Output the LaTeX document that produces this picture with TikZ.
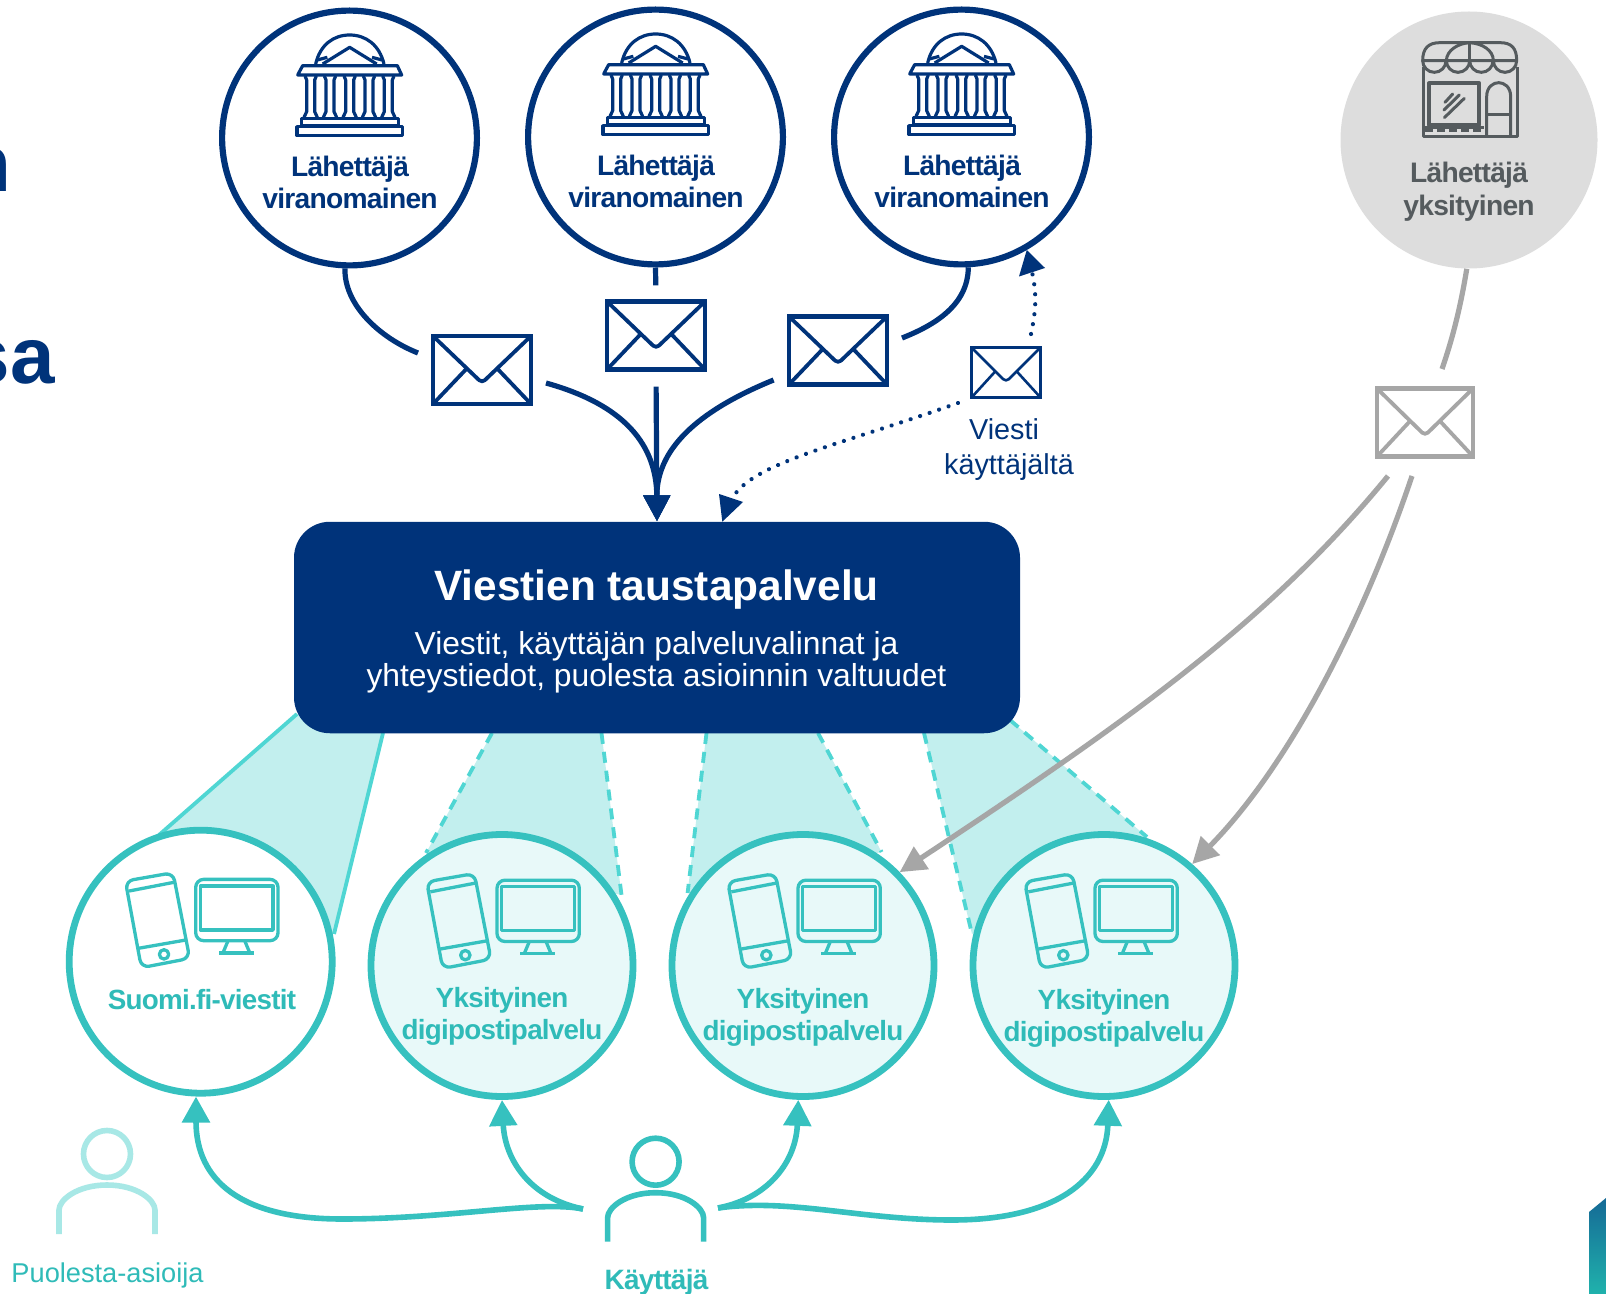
\documentclass[tikz,border=0pt]{standalone}
\usepackage{fontspec}
\setmainfont{Liberation Sans}
\newfontfamily\tightbold[LetterSpace=-2.6]{Liberation Sans}
\usetikzlibrary{arrows.meta,calc}
\definecolor{navy}{HTML}{00337A}
\definecolor{tealc}{HTML}{36C1BF}
\definecolor{teallabel}{HTML}{2FBBB8}
\definecolor{teallight}{HTML}{A8E8E6}
\definecolor{wedgefill}{HTML}{C2EFEE}
\definecolor{wedgeline}{HTML}{4FD6D3}
\definecolor{circlefill}{HTML}{E8F9F9}
\definecolor{grayline}{HTML}{A6A6A6}
\definecolor{graydisc}{HTML}{DDDDDD}
\definecolor{graytext}{HTML}{555B5E}
\definecolor{cornertop}{HTML}{156A96}
\definecolor{cornerbot}{HTML}{20B2AC}
\tikzset{
  sendercircle/.style={circle,draw=navy,line width=3.1pt,fill=white,inner sep=0pt,minimum size=127.4pt},
  privcircle/.style={circle,fill=graydisc,inner sep=0pt,minimum size=128.5pt},
  servwhite/.style={circle,draw=tealc,line width=3.4pt,fill=white,inner sep=0pt,minimum size=131.5pt},
  servtint/.style={circle,draw=tealc,line width=3.4pt,fill=circlefill,inner sep=0pt,minimum size=131pt},
  senderlabel/.style={text=navy,align=center,font=\fontsize{14.1}{16}\selectfont\tightbold\bfseries},
  privlabel/.style={text=graytext,align=center,font=\fontsize{14.1}{16.5}\selectfont\tightbold\bfseries},
  servlabel/.style={text=teallabel,align=center,font=\fontsize{13.9}{16}\selectfont\tightbold\bfseries},
  envbox/.style n args={3}{rectangle,draw=#3,line width=2.2pt,fill=white,inner sep=0pt,minimum width=#1,minimum height=#2},
  pics/flap/.style n args={4}{code={
    \begin{scope}[x=#1,y=-#2,draw=#3,line width=#4,line join=round]
      \draw[rounded corners=2pt] (-.5,-.5) -- (0,.19) -- (.5,-.5);
      \draw (-.5,.5) -- (-.15,-.03);
      \draw (.5,.5) -- (.15,-.03);
    \end{scope}
  }},
  navyline/.style={draw=navy,line width=2.6pt},
  navydot/.style={draw=navy,line width=2.1pt,line cap=round,dash pattern=on 0.01pt off 5pt},
  grayconn/.style={draw=grayline,line width=2.6pt},
  tealconn/.style={draw=tealc,line width=2.8pt},
  navytip/.style={-{Triangle[length=13pt,width=13pt,color=navy]}},
  graytip/.style={-{Triangle[length=13pt,width=13pt,color=grayline]}},
  tealtip/.style={-{Triangle[length=13pt,width=13.5pt,color=tealc]}},
  wedgearea/.style={fill=wedgefill},
  wedgesolid/.style={draw=wedgeline,line width=1.9pt},
  wedgedash/.style={draw=wedgeline,line width=1.9pt,dash pattern=on 5.5pt off 4pt},
  pics/bank/.style={code={
    \begin{scope}[scale=0.33333,shift={(-448.5,-414)},navy,line width=1.6pt,line join=round]
      \draw (347,192) .. controls (360,135) and (400,105) .. (449,105) .. controls (498,105) and (538,135) .. (552,192);
      \draw (368,192) -- (449,142) -- (530,192);
      \draw (352,180) -- (382,172) (546,180) -- (516,172);
      \draw (293,225) -- (308,197) -- (592,197) -- (605,225) -- cycle;
      \foreach \c in {332,390,449,507,565}{
        \draw (\c-17,228) -- (\c-12,240) -- (\c-12,335) -- (\c-20,352);
        \draw (\c+17,228) -- (\c+12,240) -- (\c+12,335) -- (\c+20,352);
      }
      \draw (305,355) rectangle (595,378);
      \draw (291,380) rectangle (607,407);
    \end{scope}
  }},
  pics/shop/.style={code={
    \begin{scope}[scale=0.33333,shift={(-447,-420)},graytext,line width=1.5pt,line join=round]
      \draw (308,182) .. controls (308,145) and (325,128) .. (360,128) -- (540,128) .. controls (575,128) and (590,145) .. (590,182) -- cycle;
      \draw (379,182) .. controls (380,150) and (415,130) .. (449,128) .. controls (485,130) and (520,150) .. (520,182);
      \draw (449,128) -- (449,182);
      \foreach \s in {308,379,449,520}{
        \draw (\s,182) arc[start angle=180,end angle=0,radius=35];
      }
      \draw (310,200) -- (310,410) -- (592,410) -- (592,200);
      \draw[line width=2pt] (327,250) rectangle (478,375);
      \draw[line cap=round] (375,307) -- (398,282) (372,330) -- (418,285) (373,353) -- (433,295);
      \draw (500,408) -- (500,290) .. controls (500,260) and (520,248) .. (536,248) .. controls (552,248) and (572,260) .. (572,290) -- (572,408);
      \draw (500,345) -- (572,345);
      \draw[dash pattern=on 4pt off 2pt] (315,391) -- (492,391);
      \draw (315,383) -- (492,383);
    \end{scope}
  }},
  pics/devices/.style={code={
    \begin{scope}[scale=0.33333,shift={(-423,-425)},tealc,line width=1.65pt,line join=round]
      \draw[rounded corners=4pt] (197,183) -- (340,158) -- (390,415) -- (245,443) -- cycle;
      \draw (208,213) -- (347,186);
      \draw (235,385) -- (378,360);
      \draw (313,403) circle[radius=14];
      \draw[rounded corners=4pt] (408,178) rectangle (655,362);
      \draw (422,198) rectangle (640,330);
      \draw (505,362) -- (490,398) (555,362) -- (570,398);
      \draw (478,399) -- (582,399);
    \end{scope}
  }},
  pics/person/.style={code={
    \begin{scope}[#1,line width=2.8pt,line join=round]
      \draw (0,-56) circle[radius=23.5];
      \draw (-48,24) -- (-48,0) .. controls (-48,-10) and (-30,-25) .. (0,-25) .. controls (30,-25) and (48,-10) .. (48,0) -- (48,24);
    \end{scope}
  }}
}
\begin{document}
\begin{tikzpicture}[x=0.5pt,y=-0.5pt]
\path[use as bounding box,clip] (0,0) rectangle (1606,1294);
\fill[white] (0,0) rectangle (1606,1294);

% clipped title fragments and corner ornament
\node[anchor=base east,inner sep=0pt,text=navy,font=\fontsize{40}{40}\selectfont\bfseries] (titleA) at (12,192) {n};
\node[anchor=base east,inner sep=0pt,text=navy,font=\fontsize{40}{40}\selectfont\bfseries] (titleB) at (55,384) {sa};
\shade[top color=cornertop,bottom color=cornerbot] (1589,1212) -- (1606,1198) -- (1606,1294) -- (1589,1294) -- cycle;

% wedges
\coordinate (w1a) at (297,714); \coordinate (w1b) at (159,835); \coordinate (w1c) at (383,733); \coordinate (w1d) at (334,934);
\coordinate (w2a) at (492,733); \coordinate (w2b) at (426,853); \coordinate (w2c) at (601.5,733); \coordinate (w2d) at (621.5,895);
\coordinate (w3a) at (706.5,733); \coordinate (w3b) at (687.6,893); \coordinate (w3c) at (818,733); \coordinate (w3d) at (881.6,852);
\coordinate (w4a) at (924,733); \coordinate (w4b) at (972,934); \coordinate (w4c) at (1010,720); \coordinate (w4d) at (1147,837);
\foreach \w in {1,2,3,4}{
  \fill[wedgearea] (w\w a) -- (w\w b) -- (w\w d) -- (w\w c) -- cycle;
}
\path[wedgesolid] (w1a) -- (w1b) (w1c) -- (w1d);
\foreach \w in {2,3,4}{
  \path[wedgedash] (w\w a) -- (w\w b);
  \path[wedgedash] (w\w c) -- (w\w d);
}

% central box
\node[rectangle,rounded corners=18pt,fill=navy,inner sep=0pt,minimum width=363pt,minimum height=105.75pt] (hub) at (657,627.5) {};
\node[text=white,font=\fontsize{21.2}{21.2}\selectfont\bfseries] (hubtitle) at (656.5,590) {Viestien taustapalvelu};
\node[text=white,align=center,font=\fontsize{15.9}{16}\selectfont] (hubtext) at (656.5,662) {Viestit, käyttäjän palveluvalinnat ja\\yhteystiedot, puolesta asioinnin valtuudet};

% senders
\node[sendercircle] (s1) at (349.5,138) {};
\node[sendercircle] (s2) at (655.5,137) {};
\node[sendercircle] (s3) at (961.5,137) {};
\node[privcircle] (p1) at (1469,140) {};
\pic at (s1.center) {bank};
\pic at (s2.center) {bank};
\pic at (s3.center) {bank};
\pic at (p1.center) {shop};
\node[senderlabel] (s1t) at (350,182.5) {Lähettäjä\\viranomainen};
\node[senderlabel] (s2t) at (656,181.5) {Lähettäjä\\viranomainen};
\node[senderlabel] (s3t) at (962,181.5) {Lähettäjä\\viranomainen};
\node[privlabel] (p1t) at (1469,192) {Lähettäjä\\yksityinen};

% envelopes
\node[envbox={49pt}{34pt}{navy}] (e1) at (482,370) {};
\node[envbox={49pt}{34pt}{navy}] (e2) at (656,335.5) {};
\node[envbox={49pt}{34pt}{navy}] (e3) at (838,350.5) {};
\node[envbox={34.5pt}{25pt}{navy},line width=1.5pt] (e4) at (1006,372.5) {};
\node[envbox={48pt}{34pt}{grayline}] (e5) at (1425,422.5) {};
\pic[navy] at (e1.center) {flap={49pt}{34pt}{navy}{1.9pt}};
\pic[navy] at (e2.center) {flap={49pt}{34pt}{navy}{1.9pt}};
\pic[navy] at (e3.center) {flap={49pt}{34pt}{navy}{1.9pt}};
\pic[navy] at (e4.center) {flap={34.5pt}{25pt}{navy}{1.3pt}};
\pic[grayline] at (e5.center) {flap={48pt}{34pt}{grayline}{1.9pt}};
\node[text=navy,align=center,font=\fontsize{14.4}{17.5}\selectfont] (e4t) at (1009,450) {Viesti\hspace*{5pt}\\käyttäjältä};

% connectors, navy
\coordinate (c1a) at (418,353); \coordinate (c1b) at (546,383);
\coordinate (c3a) at (902,338); \coordinate (c3b) at (773.6,380);
\coordinate (d1) at (958,403); \coordinate (d2) at (1031,334);
\path[navyline] (s1.-92) .. controls (344,305) and (380,338) .. (c1a);
\path[navyline,shorten >=7pt] (s2.south) -- (e2.north);
\path[navyline] (s3.-87) .. controls (968,305) and (935,325) .. (c3a);
\path[navyline,navytip] (c1b) .. controls (625,405) and (656.5,445) .. (hub.north);
\path[navyline,navytip,shorten <=7.5pt] (e2.south) -- (hub.north);
\path[navyline,navytip] (c3b) .. controls (705,408) and (656.5,445) .. (hub.north);
\path[navydot] (d1) .. controls (840,445) and (755,462) .. (733,497);
\path[navydot] (d2) .. controls (1036,310) and (1037,295) .. (1032,272);
\coordinate (h2) at (722.3,521.7);
\fill[navy] (h2) -- (719,494) -- (743,502) -- cycle;
\fill[navy] (s3.-60) -- (1019,276.5) -- (1045,268) -- cycle;

% services
\node[servwhite] (v1) at (200.7,961.7) {};
\node[servtint] (v2) at (502,965.5) {};
\node[servtint] (v3) at (803,965.5) {};
\node[servtint] (v4) at (1104,965.5) {};
\pic at (v1.center) {devices};
\pic at ([yshift=1.5pt]v2.center) {devices};
\pic at ([yshift=1.5pt]v3.center) {devices};
\pic at ([yshift=1.5pt,xshift=-2pt]v4.center) {devices};
\node[servlabel] (v1t) at (202,1000) {Suomi.fi-viestit};
\node[servlabel] (v2t) at (502,1016) {Yksityinen\\digipostipalvelu};
\node[servlabel] (v3t) at (803,1017) {Yksityinen\\digipostipalvelu};
\node[servlabel] (v4t) at (1104,1018) {Yksityinen\\digipostipalvelu};

% gray connectors
\coordinate (g1) at (1442,369);
\coordinate (g2) at (1388,476);
\coordinate (g3) at (1412,476);
\path[grayconn] (p1.-91) .. controls (1460,310) and (1452,340) .. (g1);
\path[grayconn,graytip] (g2) .. controls (1270,620) and (1130,720) .. (v3.44);
\path[grayconn,graytip] (g3) .. controls (1360,630) and (1285,770) .. (v4.49);

% people
\pic at (655.6,1217.7) {person={tealc}};
\pic at (107,1210) {person={teallight}};
\node[text=teallabel,font=\fontsize{13.6}{14}\selectfont] (pt1) at (107.5,1275) {Puolesta-asioija};
\node[text=teallabel,font=\fontsize{14}{14}\selectfont\tightbold\bfseries] (pt2) at (656.5,1282) {Käyttäjä};
\coordinate (u1) at (583,1209);
\coordinate (u2) at (718,1208);
\coordinate (u1m) at (342,1219);
\coordinate (u2m) at (952,1220);
\path[tealconn,tealtip] (u1) .. controls (540,1200) and (450,1219) .. (u1m) .. controls (240,1219) and (196,1180) .. (v1.-92);
\path[tealconn,tealtip] (u1) .. controls (530,1198) and (505,1160) .. (v2.south);
\path[tealconn,tealtip] (u2) .. controls (770,1198) and (796,1160) .. (v3.-92);
\path[tealconn,tealtip] (u2) .. controls (790,1198) and (860,1220) .. (u2m) .. controls (1055,1220) and (1106,1180) .. (v4.-88);
\end{tikzpicture}
\end{document}
